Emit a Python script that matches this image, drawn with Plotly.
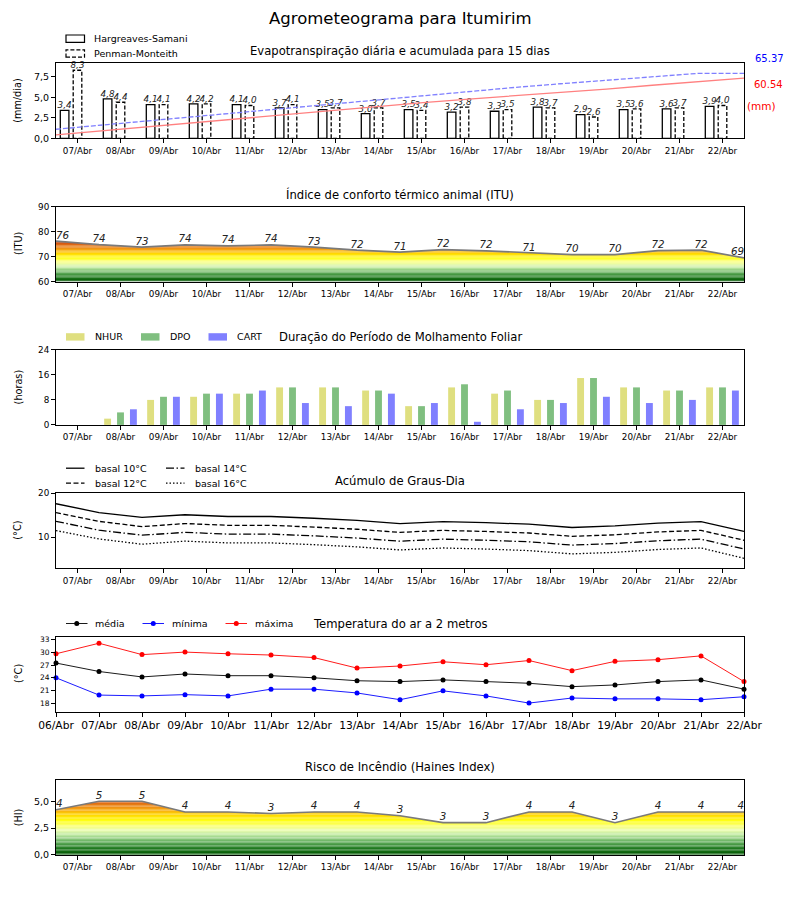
import plotly.graph_objects as go

# ---------------- data ----------------
dias = ['07/Abr', '08/Abr', '09/Abr', '10/Abr', '11/Abr', '12/Abr', '13/Abr', '14/Abr',
        '15/Abr', '16/Abr', '17/Abr', '18/Abr', '19/Abr', '20/Abr', '21/Abr', '22/Abr']
dias_temp = ['06/Abr'] + dias

et_hs = [3.4, 4.8, 4.1, 4.2, 4.1, 3.7, 3.5, 3.0, 3.5, 3.2, 3.3, 3.8, 2.9, 3.5, 3.6, 3.9]
et_pm = [8.3, 4.4, 4.1, 4.2, 4.0, 4.1, 3.7, 3.7, 3.4, 3.8, 3.5, 3.7, 2.6, 3.6, 3.7, 4.0]
acum_hs = [3.4, 7.5, 11.6, 15.7, 19.9, 24.0, 28.1, 32.2, 36.0, 39.5, 42.8, 46.0, 49.6, 53.4, 57.2, 60.54]
acum_pm = [9.1, 13.3, 17.5, 21.7, 26.0, 30.2, 34.4, 38.6, 43.2, 47.5, 51.2, 54.9, 58.6, 62.0, 65.37, 65.37]

itu = [76.2, 74.8, 73.8, 74.7, 74.3, 74.7, 73.8, 72.6, 71.8, 72.8, 72.3, 71.4, 70.8, 70.8, 72.4, 72.6, 69.5]

nhur = [0, 2, 8, 9, 10, 12, 12, 11, 6, 12, 10, 8, 15, 12, 11, 12]
dpo = [0, 4, 9, 10, 10, 12, 12, 11, 6, 13, 11, 8, 15, 12, 11, 12]
cart = [0, 5, 9, 10, 11, 7, 6, 10, 7, 1, 5, 7, 9, 7, 8, 11]

gd10 = [17.6, 15.6, 14.5, 15.1, 14.7, 14.7, 14.3, 13.8, 13.1, 13.55, 13.3, 12.95, 12.2, 12.55, 13.2, 13.55, 11.3]
gd12 = [15.6, 13.6, 12.4, 13.1, 12.7, 12.7, 12.3, 11.8, 11.1, 11.55, 11.3, 10.95, 10.2, 10.55, 11.2, 11.55, 9.3]
gd14 = [13.6, 11.6, 10.45, 11.1, 10.7, 10.7, 10.3, 9.8, 9.1, 9.55, 9.3, 8.95, 8.2, 8.55, 9.2, 9.55, 7.3]
gd16 = [11.5, 9.6, 8.4, 9.1, 8.7, 8.7, 8.3, 7.8, 7.1, 7.55, 7.3, 6.95, 6.2, 6.55, 7.2, 7.55, 5.2]

tmax = [29.7, 32.2, 29.5, 30.1, 29.7, 29.4, 28.8, 26.3, 26.8, 27.8, 27.1, 28.1, 25.7, 27.9, 28.3, 29.2, 23.1]
tmed = [27.5, 25.5, 24.2, 24.9, 24.5, 24.5, 24.0, 23.3, 23.1, 23.5, 23.1, 22.7, 21.9, 22.3, 23.1, 23.5, 21.3]
tmin = [24.0, 19.9, 19.7, 20.0, 19.7, 21.3, 21.3, 20.4, 18.8, 20.9, 19.7, 18.0, 19.2, 19.0, 19.0, 18.8, 19.5]

haines = [4.2, 5.0, 5.0, 4.0, 4.0, 3.85, 4.0, 4.0, 3.65, 3.0, 3.0, 4.0, 4.0, 3.0, 4.0, 4.0, 4.0]

# ---------------- helpers ----------------
OFF = 8            # page body margin of the html page
W, H = 800 - OFF, 900 - OFF
FONT = "DejaVu Sans"
X0, X1 = 56, 744
TOPS = [63.3 + 143.3 * k for k in range(6)]
PH = 75


def px(x):
    return (x - OFF) / W


def py(y):
    return 1 - (y - OFF) / H


def ydom(k):
    return [py(TOPS[k] + PH), py(TOPS[k])]


def fmt(v):
    return ('%.1f' % v).replace('.', ',')


CMAP = [(0.00, (0, 85, 0)), (0.10, (30, 120, 30)), (0.22, (100, 175, 95)),
        (0.33, (185, 230, 160)), (0.42, (235, 252, 175)), (0.50, (252, 255, 110)),
        (0.58, (255, 255, 20)), (0.68, (255, 215, 0)), (0.78, (245, 160, 20)),
        (0.90, (220, 100, 20)), (1.00, (190, 55, 10))]


def cmap(f):
    f = max(0.0, min(1.0, f))
    for (f0, c0), (f1, c1) in zip(CMAP[:-1], CMAP[1:]):
        if f <= f1:
            t = (f - f0) / (f1 - f0) if f1 > f0 else 0
            c = [round(a + (b - a) * t) for a, b in zip(c0, c1)]
            return 'rgb(%d,%d,%d)' % tuple(c)
    return 'rgb(%d,%d,%d)' % CMAP[-1][1]


fig = go.Figure()
shapes = []
annots = []


def note(x, y, text, size, color='black', xanchor='center', angle=0, italic=False):
    f = dict(family=FONT, size=size, color=color)
    if italic:
        f['style'] = 'italic'
    annots.append(dict(x=px(x), y=py(y), xref='paper', yref='paper', text=text, showarrow=False,
                       xanchor=xanchor, yanchor='middle', textangle=angle, font=f))


# ---------- Panel 1: evapotranspiration ----------
n = len(dias)
fig.add_trace(go.Bar(x=[i - 0.3 for i in range(n)], y=et_hs, width=0.2,
                     marker=dict(color='white', line=dict(color='black', width=1.3)),
                     xaxis='x', yaxis='y', showlegend=False))
pm_x, pm_y = [], []
for i, v in enumerate(et_pm):
    pm_x += [i - 0.1, i - 0.1, i + 0.1, i + 0.1, i - 0.1, None]
    pm_y += [0, v, v, 0, 0, None]
fig.add_trace(go.Scatter(x=pm_x, y=pm_y, mode='lines', line=dict(color='black', width=1.3, dash='4px,2px'),
                         xaxis='x', yaxis='y', showlegend=False, connectgaps=False))
fig.add_trace(go.Scatter(x=list(range(len(acum_hs))), y=acum_hs, mode='lines',
                         line=dict(color='#ff8080', width=1.3), xaxis='x7', yaxis='y7', showlegend=False))
fig.add_trace(go.Scatter(x=list(range(len(acum_pm))), y=acum_pm, mode='lines',
                         line=dict(color='#8080ff', width=1.3, dash='5px,2px'), xaxis='x7', yaxis='y7',
                         showlegend=False))
lbl_font = dict(family=FONT, size=8.8, color='#222', style='italic')
fig.add_trace(go.Scatter(x=[i - 0.3 for i in range(n)], y=et_hs, mode='text', text=[fmt(v) for v in et_hs],
                         textposition='top center', textfont=lbl_font, cliponaxis=False,
                         xaxis='x', yaxis='y', showlegend=False))
fig.add_trace(go.Scatter(x=list(range(n)), y=et_pm, mode='text', text=[fmt(v) for v in et_pm],
                         textposition='top center', textfont=lbl_font, cliponaxis=False,
                         xaxis='x', yaxis='y', showlegend=False))
note(769, 58.3, '%.2f' % acum_pm[-1], 10, 'blue')
note(768, 85, '%.2f' % acum_hs[-1], 10, 'red')
note(761, 106, '(mm)', 10.5, 'red')


# ---------- gradient area panels ----------
def gradient_panel(k, vals, vmin, vmax, step, fmax, labels):
    xa = 'x%d' % (k + 1)
    ya = 'y%d' % (k + 1)
    v = vmin
    top = max(vals) + step
    while v < top:
        shapes.append(dict(type='rect', xref=xa + ' domain', yref=ya, x0=0, x1=1, y0=v, y1=v + step,
                           fillcolor=cmap((v + step / 2 - vmin) / (fmax - vmin)), line=dict(width=0),
                           layer='below'))
        v += step
    xs = list(range(len(vals)))
    fig.add_trace(go.Scatter(x=xs, y=[vmax * 2] * len(vals), mode='lines', line=dict(width=0),
                             xaxis=xa, yaxis=ya, showlegend=False, hoverinfo='skip'))
    fig.add_trace(go.Scatter(x=xs, y=vals, mode='lines', fill='tonexty', fillcolor='white',
                             line=dict(color='#7a7a7a', width=1.6), xaxis=xa, yaxis=ya, showlegend=False))
    pos = ['top center'] * len(vals)
    pos[0] = 'top right'
    pos[-1] = 'top left'
    fig.add_trace(go.Scatter(x=xs, y=vals, mode='text', text=labels, textposition=pos,
                             textfont=dict(family=FONT, size=10.3, color='#222', style='italic'),
                             cliponaxis=False, xaxis=xa, yaxis=ya, showlegend=False))


gradient_panel(1, itu, 60, 90, 0.5, 76.5, [str(int(v)) for v in itu])

# ---------- Panel 3: leaf wetness ----------
for off, vals, col in [(-0.3, nhur, '#dfdf80'), (0.0, dpo, '#80bf80'), (0.3, cart, '#8080ff')]:
    fig.add_trace(go.Bar(x=[i + off for i in range(n)], y=vals, width=0.16,
                         marker=dict(color=col, line=dict(width=0)), xaxis='x3', yaxis='y3', showlegend=False))

# ---------- Panel 4: degree days ----------
DASH12, DASH14, DASH16 = '5px,2.5px', '8px,2.5px,1.5px,2.5px', '1.5px,2px'
for vals, dash in [(gd10, 'solid'), (gd12, DASH12), (gd14, DASH14), (gd16, DASH16)]:
    fig.add_trace(go.Scatter(x=list(range(len(vals))), y=vals, mode='lines',
                             line=dict(color='black', width=1.3, dash=dash), xaxis='x4', yaxis='y4',
                             showlegend=False))

# ---------- Panel 5: temperature ----------
for vals, col in [(tmed, 'black'), (tmin, 'blue'), (tmax, 'red')]:
    fig.add_trace(go.Scatter(x=list(range(len(vals))), y=vals, mode='lines+markers',
                             line=dict(color=col, width=0.9), marker=dict(color=col, size=5),
                             cliponaxis=False, xaxis='x5', yaxis='y5', showlegend=False))

# ---------- Panel 6: Haines ----------
gradient_panel(5, haines, 0, 7, 0.125, 5.5, [str(int(v)) for v in haines])

# ---------------- axes ----------------
tickfont = dict(family=FONT, size=8.8, color='black')
base = dict(showline=True, mirror=True, linecolor='black', linewidth=1, ticks='outside', ticklen=4,
            tickwidth=1, tickcolor='black', showgrid=False, zeroline=False, tickfont=tickfont,
            automargin=False)
lay = {}
for k in range(6):
    xa = 'xaxis' if k == 0 else 'xaxis%d' % (k + 1)
    ya = 'yaxis' if k == 0 else 'yaxis%d' % (k + 1)
    xd = dict(base, domain=[px(X0), px(X1)], anchor='y' if k == 0 else 'y%d' % (k + 1))
    yd = dict(base, domain=ydom(k), anchor='x' if k == 0 else 'x%d' % (k + 1))
    if k in (0, 2):
        xd.update(range=[-0.5, 15.5], tickvals=list(range(n)), ticktext=dias)
    elif k in (1, 3, 5):
        xd.update(range=[0, 16], tickvals=[i + 0.5 for i in range(n)], ticktext=dias)
    else:
        xd.update(range=[0, 16], tickvals=list(range(len(dias_temp))), ticktext=dias_temp,
                  tickfont=dict(family=FONT, size=10.7, color='black'))
    lay[xa] = xd
    lay[ya] = yd

lay['yaxis'].update(range=[0, 9.15], tickvals=[0, 2.5, 5, 7.5], ticktext=[fmt(v) for v in [0, 2.5, 5, 7.5]],
                    tickfont=dict(family=FONT, size=9.5, color='black'))
lay['yaxis2'].update(range=[60, 90], tickvals=[60, 70, 80, 90])
lay['yaxis3'].update(range=[0, 24], tickvals=[0, 8, 16, 24])
lay['yaxis4'].update(range=[2.95, 20], tickvals=[10, 20])
lay['yaxis5'].update(range=[16, 33.8], tickvals=[18, 21, 24, 27, 30, 33],
                     tickfont=dict(family=FONT, size=7.5, color='black'))
lay['yaxis6'].update(range=[0, 7], tickvals=[0, 2.5, 5], ticktext=[fmt(v) for v in [0, 2.5, 5]],
                     tickfont=dict(family=FONT, size=9.5, color='black'))
lay['xaxis7'] = dict(overlaying='x', range=[0, 15], visible=False, anchor='y7', domain=[px(X0), px(X1)],
                     automargin=False)
lay['yaxis7'] = dict(overlaying='y', range=[0, 75.5], visible=False, anchor='x7', side='right',
                     automargin=False)

# ---------------- titles ----------------
note(400, 18, 'Agrometeograma para Itumirim', 16.5)
titles = ['Evapotranspiração diária e acumulada para 15 dias', 'Índice de conforto térmico animal (ITU)',
          'Duração do Período de Molhamento Foliar', 'Acúmulo de Graus-Dia', 'Temperatura do ar a 2 metros',
          'Risco de Incêndio (Haines Index)']
ylabels = ['(mm/dia)', '(ITU)', '(horas)', '(°C)', '(°C)', '(HI)']
for k in range(6):
    note((X0 + X1) / 2, TOPS[k] - 12.5, titles[k], 11.6)
    note(18, TOPS[k] + PH / 2, ylabels[k], 9.7, angle=-90)

# ---------------- manual legends ----------------
LEGSZ = 9.5


def leg_rect(x, y, fill, line_col, dash=None, lw=1.2):
    ln = dict(color=line_col, width=lw)
    if dash:
        ln['dash'] = dash
    shapes.append(dict(type='rect', xref='paper', yref='paper', x0=px(x), x1=px(x + 18.5),
                       y0=py(y + 3.7), y1=py(y - 3.7), fillcolor=fill, line=ln))


def leg_line(x, y, col, dash='solid', marker=False, lw=1.3, length=18.5):
    shapes.append(dict(type='line', xref='paper', yref='paper', x0=px(x), x1=px(x + length),
                       y0=py(y), y1=py(y), line=dict(color=col, width=lw, dash=dash)))
    if marker:
        cx = x + length / 2
        shapes.append(dict(type='circle', xref='paper', yref='paper', x0=px(cx - 2.5), x1=px(cx + 2.5),
                           y0=py(y + 2.5), y1=py(y - 2.5), fillcolor=col, line=dict(color=col, width=0)))


# panel 1
leg_rect(66, 38.7, 'white', 'black')
note(92, 38.7, 'Hargreaves-Samani', LEGSZ, xanchor='left')
leg_rect(66, 53.5, 'white', 'black', dash='4px,2px')
note(92, 53.5, 'Penman-Monteith', LEGSZ, xanchor='left')
# panel 3
ly = TOPS[2] - 13
for x, col, t in [(66, '#dfdf80', 'NHUR'), (141, '#80bf80', 'DPO'), (208.5, '#8080ff', 'CART')]:
    leg_rect(x, ly, col, col, lw=0)
    note(x + 26.5, ly, t, LEGSZ, xanchor='left')
# panel 4
r1, r2 = TOPS[3] - 25, TOPS[3] - 10
leg_line(66, r1, 'black')
note(92.5, r1, 'basal 10°C', LEGSZ, xanchor='left')
leg_line(66, r2, 'black', dash=DASH12)
note(92.5, r2, 'basal 12°C', LEGSZ, xanchor='left')
leg_line(166, r1, 'black', dash=DASH14)
note(192.5, r1, 'basal 14°C', LEGSZ, xanchor='left')
leg_line(166, r2, 'black', dash=DASH16)
note(192.5, r2, 'basal 16°C', LEGSZ, xanchor='left')
# panel 5
ly = TOPS[4] - 13
for x, col, t in [(66, 'black', 'média'), (142.5, 'blue', 'mínima'), (225.5, 'red', 'máxima')]:
    leg_line(x, ly, col, marker=True, lw=0.9, length=21.5)
    note(x + 27, ly, t, LEGSZ, xanchor='left')

fig.update_layout(width=W, height=H, margin=dict(l=0, r=0, t=0, b=0, pad=0, autoexpand=False),
                  plot_bgcolor='white', paper_bgcolor='white', barmode='overlay', showlegend=False,
                  font=dict(family=FONT, color='black'), shapes=shapes, annotations=annots, **lay)

fig.write_html('out.html')
